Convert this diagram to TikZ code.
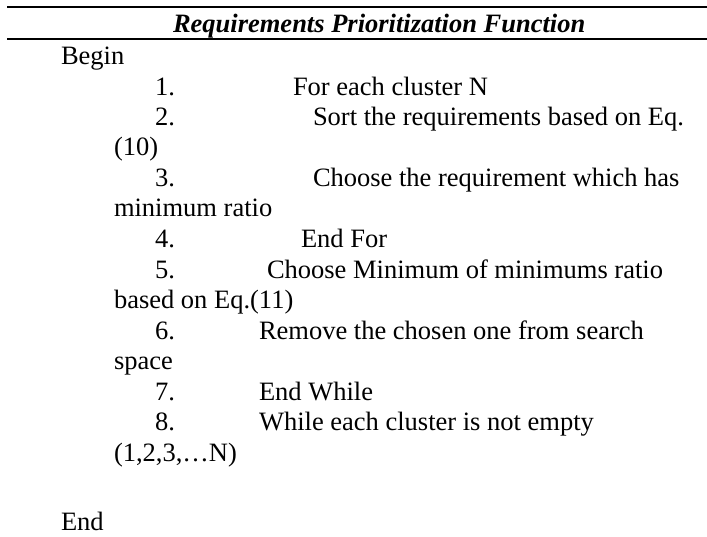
\documentclass[tikz,border=0pt]{standalone}
\usepackage{fontspec}
\setmainfont{Liberation Serif}
\begin{document}
\begin{tikzpicture}[x=1pt,y=-1pt,
  txt/.style={anchor=base west,inner sep=0pt,outer sep=0pt,font=\fontsize{26.5}{30.5}\selectfont},
  ttl/.style={anchor=base west,inner sep=0pt,outer sep=0pt,font=\fontsize{26.5}{30.5}\selectfont\bfseries\itshape},
  rulebar/.style={line width=2.4pt}]
\useasboundingbox (0,0) rectangle (707,536);
% header rules
\coordinate (r1a) at (7,7);   \coordinate (r1b) at (707,7);
\coordinate (r2a) at (7,39);  \coordinate (r2b) at (707,39);
\draw[rulebar] (r1a) -- (r1b);
\draw[rulebar] (r2a) -- (r2b);
\node[ttl] (title) at (173,32) {Requirements Prioritization Function};
% body
\node[txt] (begin) at (61,64) {Begin};
\node[txt] (n1) at (155,95) {1.};
\node[txt] (t1) at (293,95) {For each cluster N};
\node[txt] (n2) at (155,125) {2.};
\node[txt] (t2) at (313,125) {Sort the requirements based on Eq.};
\node[txt] (t2b) at (114,155) {(10)};
\node[txt] (n3) at (155,186) {3.};
\node[txt] (t3) at (313,186) {Choose the requirement which has};
\node[txt] (t3b) at (114,216) {minimum ratio};
\node[txt] (n4) at (155,247) {4.};
\node[txt] (t4) at (301,247) {End For};
\node[txt] (n5) at (155,278) {5.};
\node[txt] (t5) at (267,278) {Choose Minimum of minimums ratio};
\node[txt] (t5b) at (114,308) {based on Eq.(11)};
\node[txt] (n6) at (155,339) {6.};
\node[txt] (t6) at (259,339) {Remove the chosen one from search};
\node[txt] (t6b) at (114,369) {space};
\node[txt] (n7) at (155,400) {7.};
\node[txt] (t7) at (259,400) {End While};
\node[txt] (n8) at (155,430) {8.};
\node[txt] (t8) at (259,430) {While each cluster is not empty};
\node[txt] (t8b) at (114,461) {(1,2,3,…N)};
\node[txt] (end) at (61,530) {End};
\end{tikzpicture}
\end{document}
